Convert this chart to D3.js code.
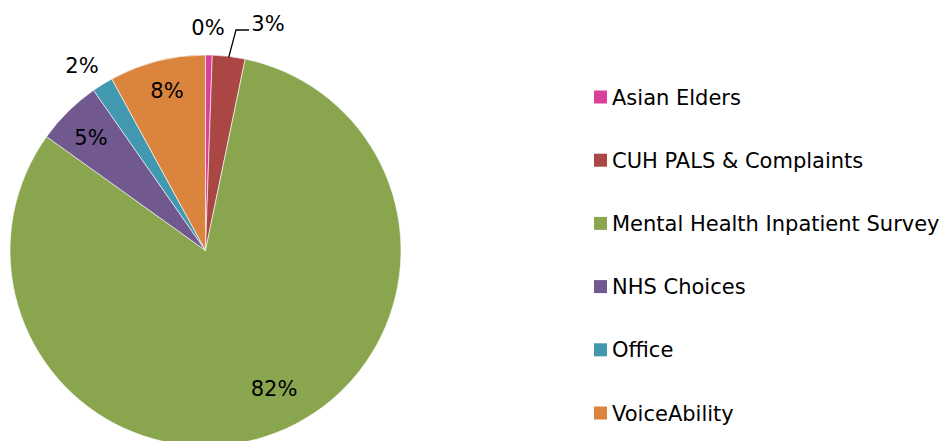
<!DOCTYPE html>
<html><head><meta charset="utf-8">
<script src="https://cdn.jsdelivr.net/npm/d3@7"></script>
<style>html,body{margin:0;padding:0;background:#fff;}svg{display:block;}</style>
</head><body>
<svg id="chart" width="949" height="441"></svg>
<script>
const categories = ["Asian Elders","CUH PALS & Complaints","Mental Health Inpatient Survey","NHS Choices","Office","VoiceAbility"];
const values = [0.55, 2.7, 81.6, 5.4, 1.75, 7.95];
const labels = ["0%","3%","82%","5%","2%","8%"];
const colors = ["#D9409A","#AA4643","#89A54E","#71588F","#4198AF","#DB843D"];

const svg = d3.select("#chart");
const cx = 205.5, cy = 250.5, r = 195.5;
const font = "'DejaVu Sans', Verdana, sans-serif";

const pie = d3.pie().sort(null).value(d => d.v);
const data = pie(categories.map((c,i)=>({c, v: values[i], l: labels[i], col: colors[i]})));
const arc = d3.arc().innerRadius(0).outerRadius(r);
const g = svg.append("g").attr("transform", `translate(${cx},${cy})`);
g.selectAll("path").data(data).join("path")
  .attr("d", arc).attr("fill", d=>d.data.col)
  .attr("stroke","#fff").attr("stroke-width",0.6);

// label anchor points
const labelPos = {"0%":[208,27],"3%":[268,23],"2%":[82,65],"82%":[274,388],"8%":[167,90],"5%":[91,137]};
data.forEach(d => {
  const p = labelPos[d.data.l];
  g.append("text").attr("x", p[0]-cx).attr("y", p[1]-cy).attr("dy","0.36em")
    .attr("text-anchor","middle").attr("font-family", font).attr("font-size", 21)
    .attr("fill","#000").text(d.data.l);
});
// leader line for 3%
const s = data[1];
const a = (s.startAngle + s.endAngle)/2;
const p0 = [Math.sin(a)*(r-1), -Math.cos(a)*(r-1)];
g.append("polyline")
  .attr("points", [p0, [236-cx, 30-cy], [249-cx, 30-cy]].map(p=>p.join(",")).join(" "))
  .attr("fill","none").attr("stroke","#000").attr("stroke-width",1.3);

// legend
const ly = d3.scalePoint().domain(categories).range([97, 413]);
const lg = svg.append("g");
categories.forEach((c,i) => {
  lg.append("rect").attr("x",594).attr("y", ly(c)-6.5).attr("width",13).attr("height",13).attr("fill", colors[i]);
  lg.append("text").attr("x",612).attr("y", ly(c)).attr("dy","0.36em")
    .attr("font-family", font).attr("font-size", 21).attr("fill","#000").text(c);
});
</script>
</body></html>
